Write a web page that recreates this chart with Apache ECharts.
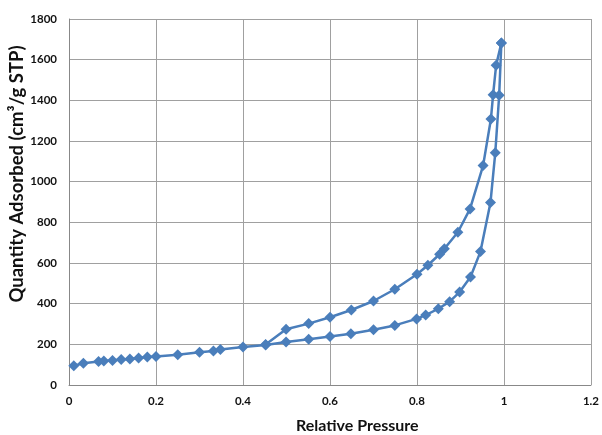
<!DOCTYPE html>
<html><head><meta charset="utf-8">
<script src="https://cdn.jsdelivr.net/npm/echarts@6/dist/echarts.min.js"></script>
<style>html,body{margin:0;padding:0;background:#fff}#c{width:602px;height:435px}</style>
</head><body><div id="c"></div>
<script>
// Adsorption branch (relative pressure, quantity adsorbed)
const adsP = [0.011,0.033,0.068,0.080,0.10,0.12,0.14,0.16,0.18,0.20,0.25,0.30,0.332,0.348,0.40,0.452,0.499,0.551,0.60,0.648,0.70,0.749,0.799,0.82,0.849,0.875,0.898,0.923,0.946,0.969,0.980,0.989,0.994];
const adsQ = [95,107,115,118,121,126,128,133,138,140,149,161,167,175,187,197,212,225,238,252,272,293,325,344,375,410,457,531,656,898,1142,1425,1682];
// Desorption branch
const desP = [0.994,0.982,0.975,0.970,0.952,0.922,0.894,0.863,0.852,0.825,0.80,0.749,0.70,0.649,0.60,0.551,0.499,0.452];
const desQ = [1682,1573,1428,1308,1079,866,751,670,643,589,545,471,413,369,333,302,274,199];
const xTicks = [0,0.2,0.4,0.6,0.8,1,1.2];
const yTicks = [0,200,400,600,800,1000,1200,1400,1600,1800];
const xTitle = 'Relative Pressure';
const yTitle = 'Quantity Adsorbed (cm\u00b3/g STP)';

const color = '#4a7ebb';
const font = 'Lato, "Open Sans", sans-serif';
const pair = (xs, ys) => xs.map((x, i) => [x, ys[i]]);
const chart = echarts.init(document.getElementById('c'), null, {renderer: 'canvas'});
const gridLine = {show: true, lineStyle: {color: '#a0a0a0', width: 1}};
chart.setOption({
  animation: false,
  grid: {left: 69, right: 8, top: 19, bottom: 50, containLabel: false},
  xAxis: {
    type: 'value', min: xTicks[0], max: xTicks[xTicks.length - 1], interval: 0.2,
    axisLine: {show: true, lineStyle: {color: '#888'}},
    axisTick: {show: false},
    axisLabel: {fontFamily: font, fontWeight: 'bold', fontSize: 11.5, color: '#111', margin: 10,
      formatter: v => String(+v.toFixed(1))},
    splitLine: gridLine
  },
  yAxis: {
    type: 'value', min: yTicks[0], max: yTicks[yTicks.length - 1], interval: 200,
    axisLine: {show: true, lineStyle: {color: '#888'}},
    axisTick: {show: false},
    axisLabel: {fontFamily: font, fontWeight: 'bold', fontSize: 11.5, color: '#111', margin: 12,
      formatter: v => String(v)},
    splitLine: gridLine
  },
  graphic: [
    {type: 'text', left: 357 - 61, top: 418,
      style: {text: xTitle, font: 'bold 16px ' + font, fill: '#111'}},
    {type: 'text', x: 17, y: 174, rotation: Math.PI / 2,
      style: {text: yTitle, font: 'bold 18.5px ' + font, fill: '#111', align: 'center', verticalAlign: 'middle'}}
  ],
  series: [
    {name: 'Adsorption', type: 'line', data: pair(adsP, adsQ), symbol: 'diamond', symbolSize: 11,
      itemStyle: {color: color}, lineStyle: {color: color, width: 2.5}},
    {name: 'Desorption', type: 'line', data: pair(desP, desQ), symbol: 'diamond', symbolSize: 11,
      itemStyle: {color: color}, lineStyle: {color: color, width: 2.5}}
  ]
});
</script></body></html>
